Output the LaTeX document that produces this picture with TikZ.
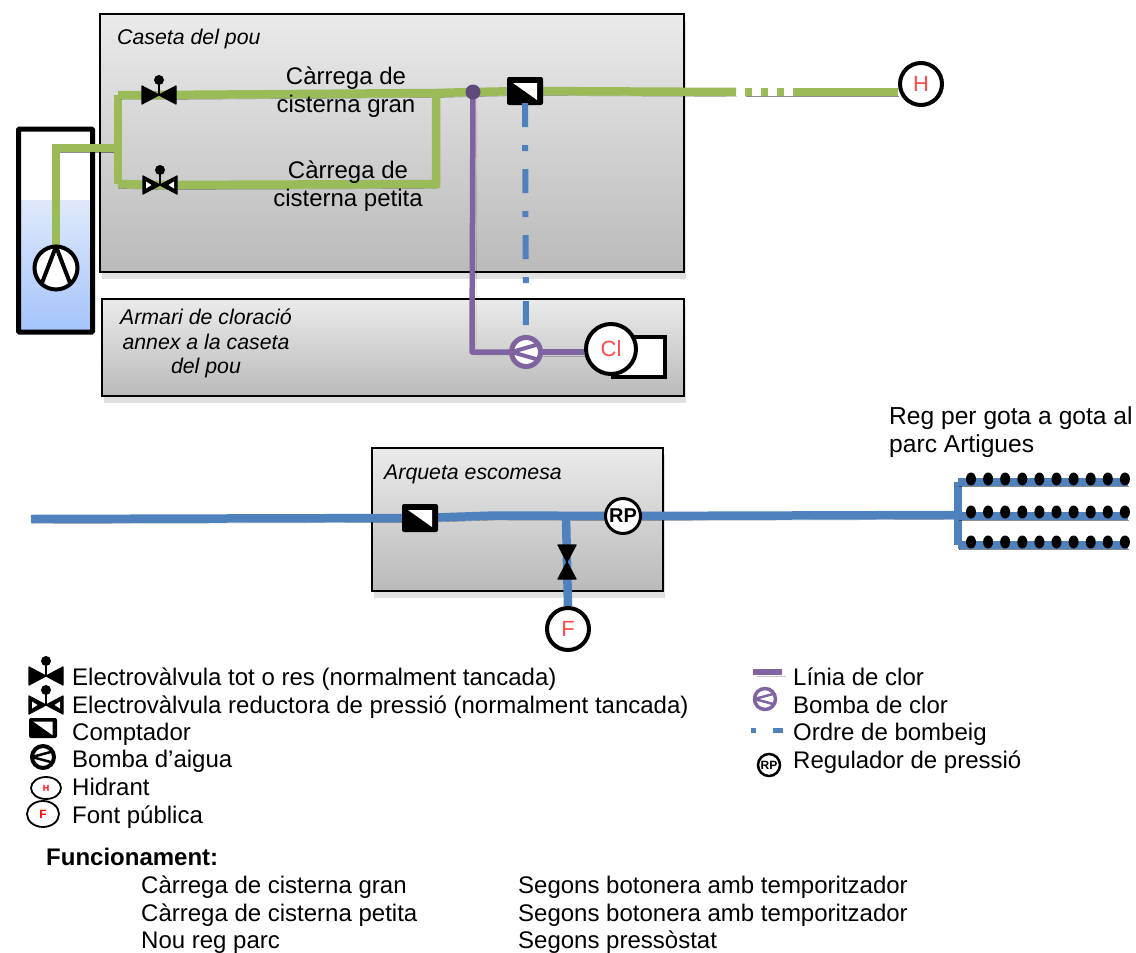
\documentclass[tikz,border=0pt]{standalone}
\usepackage{fontspec}
\setmainfont{Liberation Sans}
\usetikzlibrary{positioning,shadows,shapes.geometric}
\definecolor{pipegreen}{HTML}{9BBB59}
\definecolor{pipeblue}{HTML}{4F81BD}
\definecolor{pipepurple}{HTML}{8064A2}
\definecolor{juncpurple}{HTML}{604A7B}
\definecolor{letterred}{HTML}{FF4A4A}
\definecolor{watertop}{HTML}{DFE9FB}
\definecolor{waterbottom}{HTML}{A4C4FB}
\pgfdeclarelayer{rooms}
\pgfdeclarelayer{pipes}
\pgfsetlayers{rooms,pipes,main}
\begin{document}
\begin{tikzpicture}[x=1pt, y=-1pt]
\tikzset{
    roombox/.style={rectangle, draw=black, line width=1.6pt, top color=black!8, bottom color=black!27, inner sep=0pt, drop shadow={shadow xshift=2pt, shadow yshift=-7pt, opacity=.12, fill=black}},
    mytext/.style={inner sep=0pt, font=\fontsize{24}{27.5}\selectfont, align=center},
    myitalic/.style={mytext, font=\fontsize{21.3}{24.7}\selectfont\itshape},
    mylegend/.style={mytext, anchor=west, text height=17pt, text depth=1pt},
    mypipe/.style={line width=8.5pt, preaction={draw=black, opacity=.45, transform canvas={xshift=1pt, yshift=-4.5pt}}},
    greenpipe/.style={mypipe, draw=pipegreen},
    bluepipe/.style={mypipe, draw=pipeblue},
    purplepipe/.style={line width=5.5pt, draw=pipepurple, line join=round, preaction={draw=black, opacity=.22, transform canvas={xshift=4pt, yshift=-4pt}}},
    orderline/.style={line width=6pt, draw=pipeblue, dash pattern=on 24pt off 18pt on 6pt off 18pt},
    endpoint/.style={circle, draw=black, fill=white, line width=4pt, inner sep=0pt, minimum size=42pt, font=\fontsize{22}{22}\selectfont, text=letterred},
    regnode/.style={endpoint, minimum size=35pt, line width=3pt, text=black, font=\fontsize{20}{20}\selectfont\bfseries},
    pumpnode/.style={circle, draw=black, fill=white, line width=4pt, inner sep=0pt, outer sep=0pt, minimum size=43pt},
    chlorpump/.style={pumpnode, draw=pipepurple, line width=5pt, minimum size=29pt},
    pumpmark/.style={line join=round, line cap=round},
    devicepoint/.style={inner sep=0pt, minimum width=36pt, minimum height=18pt},
    meterbox/.style={rectangle, rounded corners=2pt, fill=black, inner sep=0pt, minimum width=36pt, minimum height=28pt},
    valvebody/.pic={\filldraw[line width=1.2pt, line join=round] (-17,-9) -- (0,0) -- (-17,9) -- cycle (17,-9) -- (0,0) -- (17,9) -- cycle;},
    valvetop/.pic={\draw[line width=1.5pt] (0,0) -- (0,-15); \fill (0,-15) circle (5pt);},
    valvewindow/.pic={\fill[white] (-14,-3.5) -- (-8.5,0) -- (-14,3.5) -- cycle (14,-3.5) -- (8.5,0) -- (14,3.5) -- cycle;},
    metertriangle/.pic={\fill[white] (-12,-8) -- (12,-8) -- (12,9) -- cycle;}
}

% rooms and well
\begin{pgfonlayer}{rooms}
\node[roombox, minimum width=584pt, minimum height=258pt] (caseta) at (392,143) {};
\node[roombox, minimum width=582pt, minimum height=97pt] (armari) at (393,347.5) {};
\node[roombox, minimum width=291pt, minimum height=143pt] (arqueta) at (517.5,519.5) {};
\fill[top color=watertop, bottom color=waterbottom] (19,200) rectangle (92,331);
\node[rectangle, draw=black, line width=5pt, rounded corners=1pt, inner sep=0pt, minimum width=74pt, minimum height=203pt] (well) at (55.5,230.5) {};
\end{pgfonlayer}

\node[myitalic, anchor=west] (casetalabel) at (117,39) {Caseta del pou};
\node[myitalic] (armarilabel) at (206,343.5) {Armari de cloració\\annex a la caseta\\del pou};
\node[myitalic, anchor=west] (arquetalabel) at (384,474) {Arqueta escomesa};

% devices
\node[pumpnode] (wellpump) at (56,268) {};
\draw[pumpmark, line width=4pt] (wellpump.228) -- (wellpump.90) -- (wellpump.312);
\node[devicepoint] (valvegran) at (159,95) {};
\pic at (valvegran) {valvebody};
\pic at (valvegran) {valvetop};
\node[devicepoint] (valvepetita) at (160,185) {};
\pic at (valvepetita) {valvebody};
\pic at (valvepetita) {valvetop};
\pic at (valvepetita) {valvewindow};
\node[meterbox] (meterpou) at (525,91) {};
\pic at (meterpou) {metertriangle};
\node[circle, fill=juncpurple, inner sep=0pt, minimum size=15pt] (junction) at (473,92) {};
\node[endpoint] (hidrant) at (921,84) {H};
\node[chlorpump] (bombaclor) at (526,352) {};
\draw[pumpmark, line width=4pt, draw=pipepurple] (bombaclor.32) -- (bombaclor.180) -- (bombaclor.328);
\node[rectangle, draw=black, fill=white, line width=3.5pt, inner sep=0pt, minimum width=52pt, minimum height=40pt] (diposit) at (639,357) {};
\node[endpoint, minimum size=50pt] (clor) at (611,349) {Cl};
\node[meterbox] (meterarqueta) at (420,518) {};
\pic at (meterarqueta) {metertriangle};
\node[regnode] (regulador) at (623,516) {RP};
\node[devicepoint, minimum width=18pt, minimum height=36pt] (valvefont) at (567,562) {};
\pic[rotate=90] at (valvefont) {valvebody};
\node[endpoint] (font) at (568,629) {F};

\coordinate (wellbend) at (56,148);
\coordinate (wellout) at (118,148);
\coordinate (leftup) at (118,95);
\coordinate (leftdown) at (118,184);
\coordinate (rightup) at (436,93);
\coordinate (rightdown) at (436,184);
\coordinate (breakstart) at (736,92);
\coordinate (dotstart) at (745,92);
\coordinate (breakend) at (800,92);
\coordinate (feedstart) at (31,519);
\coordinate (kink) at (495,515.5);
\coordinate (feedtee) at (566,516);
\coordinate (dripcol) at (958,515);
\coordinate (chlorbend) at (472,352);

\begin{pgfonlayer}{pipes}
% green pipes
\draw[greenpipe] (wellpump.north) -- (wellbend) -- (wellout);
\draw[greenpipe] (leftup) -- (leftdown);
\draw[greenpipe] (leftup) -- (valvegran.center) -- (rightup) -- (junction.center) -- (meterpou.center) -- (breakstart);
\draw[greenpipe] (rightup) -- (rightdown) -- (valvepetita.center) -- (leftdown);
\draw[greenpipe, dash pattern=on 7pt off 9pt] (dotstart) -- (breakend);
\draw[greenpipe] (breakend) -- (hidrant.west |- breakend);
% blue pipes
\draw[bluepipe] (feedstart) -- (meterarqueta.center) -- (kink) -- (regulador.center) -- (dripcol);
\draw[bluepipe] (feedtee) -- (valvefont.center) -- (font.north);
\draw[bluepipe, line width=7.5pt] (dripcol |- 0,482) -- (dripcol |- 0,545);
\foreach \rowy in {482,516,545}
    \draw[bluepipe, line width=7.5pt] (dripcol |- 0,\rowy) -- (1128,\rowy);
% chlorine
\draw[purplepipe] (junction.center) -- (chlorbend) -- (bombaclor.center);
\draw[purplepipe] (bombaclor.center) -- (bombaclor.center -| clor.west);
\end{pgfonlayer}

\draw[orderline] ([yshift=2pt]meterpou.south) -- (bombaclor.north);
\foreach \rowy/\dropy in {482/479,516/512,545/542}
    \foreach \dropn in {0,...,9}
        \fill (971+17.1*\dropn,\dropy) ellipse (5pt and 6.5pt);

% texts on the pipes
\node[mytext] (cargran) at (346,92) {Càrrega de\\cisterna gran};
\node[mytext] (carpetita) at (348,186) {Càrrega de\\cisterna petita};
\node[mytext, anchor=north west, align=left, font=\fontsize{24.6}{28}\selectfont] (reglabel) at (889,406) {Reg per gota a gota al\\parc Artigues};

% legend left
\node[devicepoint] (legvalve) at (46,676) {};
\pic at (legvalve) {valvebody};
\pic at (legvalve) {valvetop};
\node[devicepoint] (legreduct) at (46,705) {};
\pic at (legreduct) {valvebody};
\pic at (legreduct) {valvetop};
\pic at (legreduct) {valvewindow};
\node[meterbox, minimum width=28pt, minimum height=20pt] (legmeter) at (43,728) {};
\pic[scale=.8] at (legmeter) {metertriangle};
\node[pumpnode, minimum size=22pt] (legpump) at (43,757) {};
\draw[pumpmark, line width=2.5pt] (legpump.30) -- (legpump.180) -- (legpump.330);
\node[ellipse, draw=black, fill=white, line width=1.8pt, inner sep=0pt, minimum width=30pt, minimum height=22pt, text=red, font=\fontsize{9}{9}\selectfont\bfseries] (leghidrant) at (46,788) {H};
\node[ellipse, draw=black, fill=white, line width=1.8pt, inner sep=0pt, minimum width=32pt, minimum height=26pt, text=red, font=\fontsize{12}{12}\selectfont\bfseries] (legfont) at (43,814) {F};
\node[mylegend] (txtvalve) at (72,677) {Electrovàlvula tot o res (normalment tancada)};
\node[mylegend] (txtreduct) at (72,705) {Electrovàlvula reductora de pressió (normalment tancada)};
\node[mylegend] (txtmeter) at (72,732) {Comptador};
\node[mylegend] (txtpump) at (72,759) {Bomba d’aigua};
\node[mylegend] (txthidrant) at (72,787) {Hidrant};
\node[mylegend] (txtfont) at (72,815) {Font pública};

% legend right
\coordinate (legclorstart) at (753,672);
\coordinate (legclorend) at (782,672);
\draw[purplepipe] (legclorstart) -- (legclorend);
\node[chlorpump, minimum size=21pt, line width=3.5pt] (legbomba) at (765,699) {};
\draw[pumpmark, line width=2.5pt, draw=pipepurple] (legbomba.30) -- (legbomba.180) -- (legbomba.330);
\coordinate (legorderstart) at (751,730);
\coordinate (legorderend) at (783,730);
\draw[line width=5pt, draw=pipeblue, dash pattern=on 5pt off 17pt on 10pt off 50pt] (legorderstart) -- (legorderend);
\node[regnode, minimum size=22pt, line width=2.5pt, font=\fontsize{12}{12}\selectfont\bfseries] (legreg) at (769,765) {RP};
\node[mylegend] (txtclor) at (793,677) {Línia de clor};
\node[mylegend] (txtbomba) at (793,705) {Bomba de clor};
\node[mylegend] (txtordre) at (793,732) {Ordre de bombeig};
\node[mylegend] (txtreg) at (793,760) {Regulador de pressió};

% operation table
\node[mylegend, font=\fontsize{24}{27.5}\selectfont\bfseries] (functitle) at (46,857) {Funcionament:};
\node[mylegend] (funcgran) at (141,885) {Càrrega de cisterna gran};
\node[mylegend] (funcpetita) at (141,913) {Càrrega de cisterna petita};
\node[mylegend] (funcreg) at (141,940) {Nou reg parc};
\node[mylegend] (modegran) at (518,885) {Segons botonera amb temporitzador};
\node[mylegend] (modepetita) at (518,913) {Segons botonera amb temporitzador};
\node[mylegend] (modereg) at (518,940) {Segons pressòstat};

\useasboundingbox (0,0) rectangle (1136,953);
\end{tikzpicture}
\end{document}
